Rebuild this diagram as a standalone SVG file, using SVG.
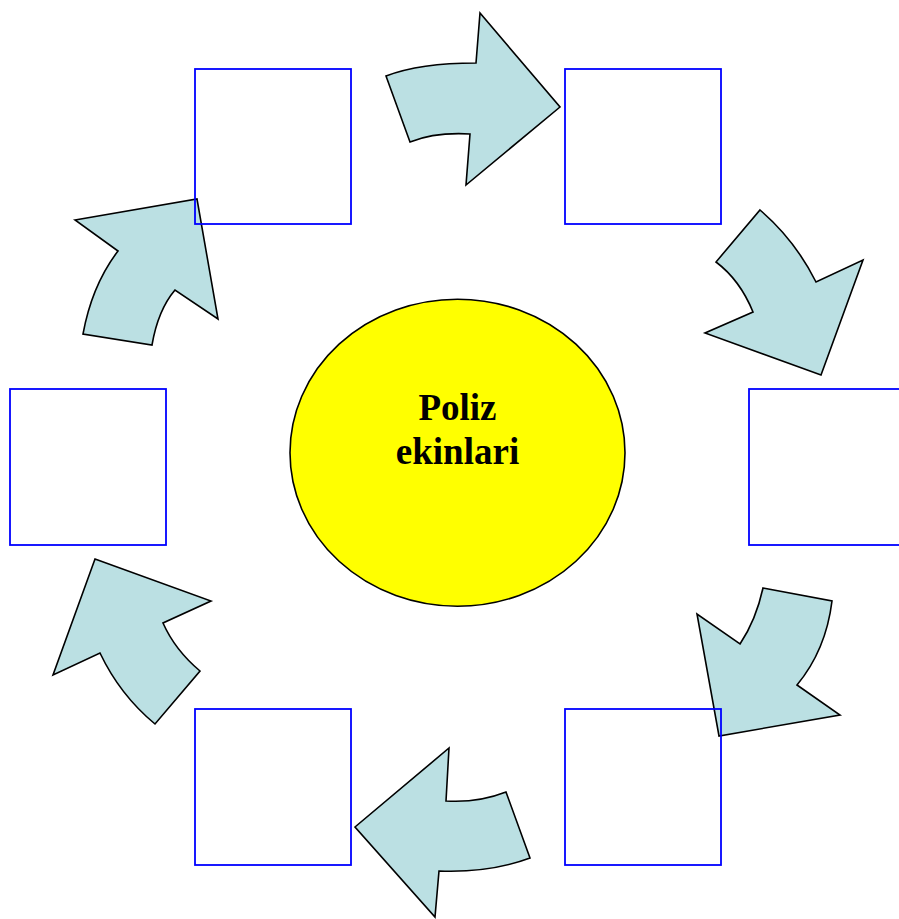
<svg xmlns="http://www.w3.org/2000/svg" width="899" height="919" viewBox="0 0 899 919">
<style>
.arrow{fill:#bbe0e3;stroke:#000;stroke-width:1.6;stroke-linejoin:miter}
.box{fill:none;stroke:#0000ff;stroke-width:1.8}
.label{font-family:"Liberation Serif","Times New Roman",serif;font-weight:bold;font-size:37px;fill:#000;text-anchor:middle}
</style>
<rect width="899" height="919" fill="#fff"/>
<g id="connectors">
<path class="arrow" d="M386,76 Q420,63 476,63 L480,13 L560,107 L466,185 L470,134 Q435,132 410,142 Z"/>
<path class="arrow" d="M760,210 Q795,240 816,282 L863,260 L821,375 L705,333 L753,312 Q740,280 716,262 Z"/>
<path class="arrow" d="M763,588 L832,601 Q826,650 797,685 L840,715 L719,736 L697,614 L740,644 Q756,620 763,588 Z"/>
<path class="arrow" d="M506,792 L530,858 Q490,873 439,871 L435,917 L355,827 L449,748 L446,801 Q478,803 506,792 Z"/>
<path class="arrow" d="M95,559 L211,601 L163,623 Q175,650 200,671 L155,724 Q120,695 100,653 L53,675 Z"/>
<path class="arrow" d="M75,220 L197,199 L218,319 L175,290 Q158,310 152,345 L83,334 Q92,285 118,251 Z"/>
</g>
<g id="center">
<ellipse cx="457.5" cy="452.7" rx="167.5" ry="153.5" fill="#ffff00" stroke="#000" stroke-width="1.6"/>
<text class="label" x="457.5" y="420">Poliz</text>
<text class="label" x="457.5" y="464">ekinlari</text>
</g>
<g id="box-top-left"><rect class="box" x="195" y="69" width="156" height="155"/></g>
<g id="box-top-right"><rect class="box" x="565" y="69" width="156" height="155"/></g>
<g id="box-right"><rect class="box" x="749" y="389" width="156" height="156"/></g>
<g id="box-bottom-right"><rect class="box" x="565" y="709" width="156" height="156"/></g>
<g id="box-bottom-left"><rect class="box" x="195" y="709" width="156" height="156"/></g>
<g id="box-left"><rect class="box" x="10" y="389" width="156" height="156"/></g>
</svg>
